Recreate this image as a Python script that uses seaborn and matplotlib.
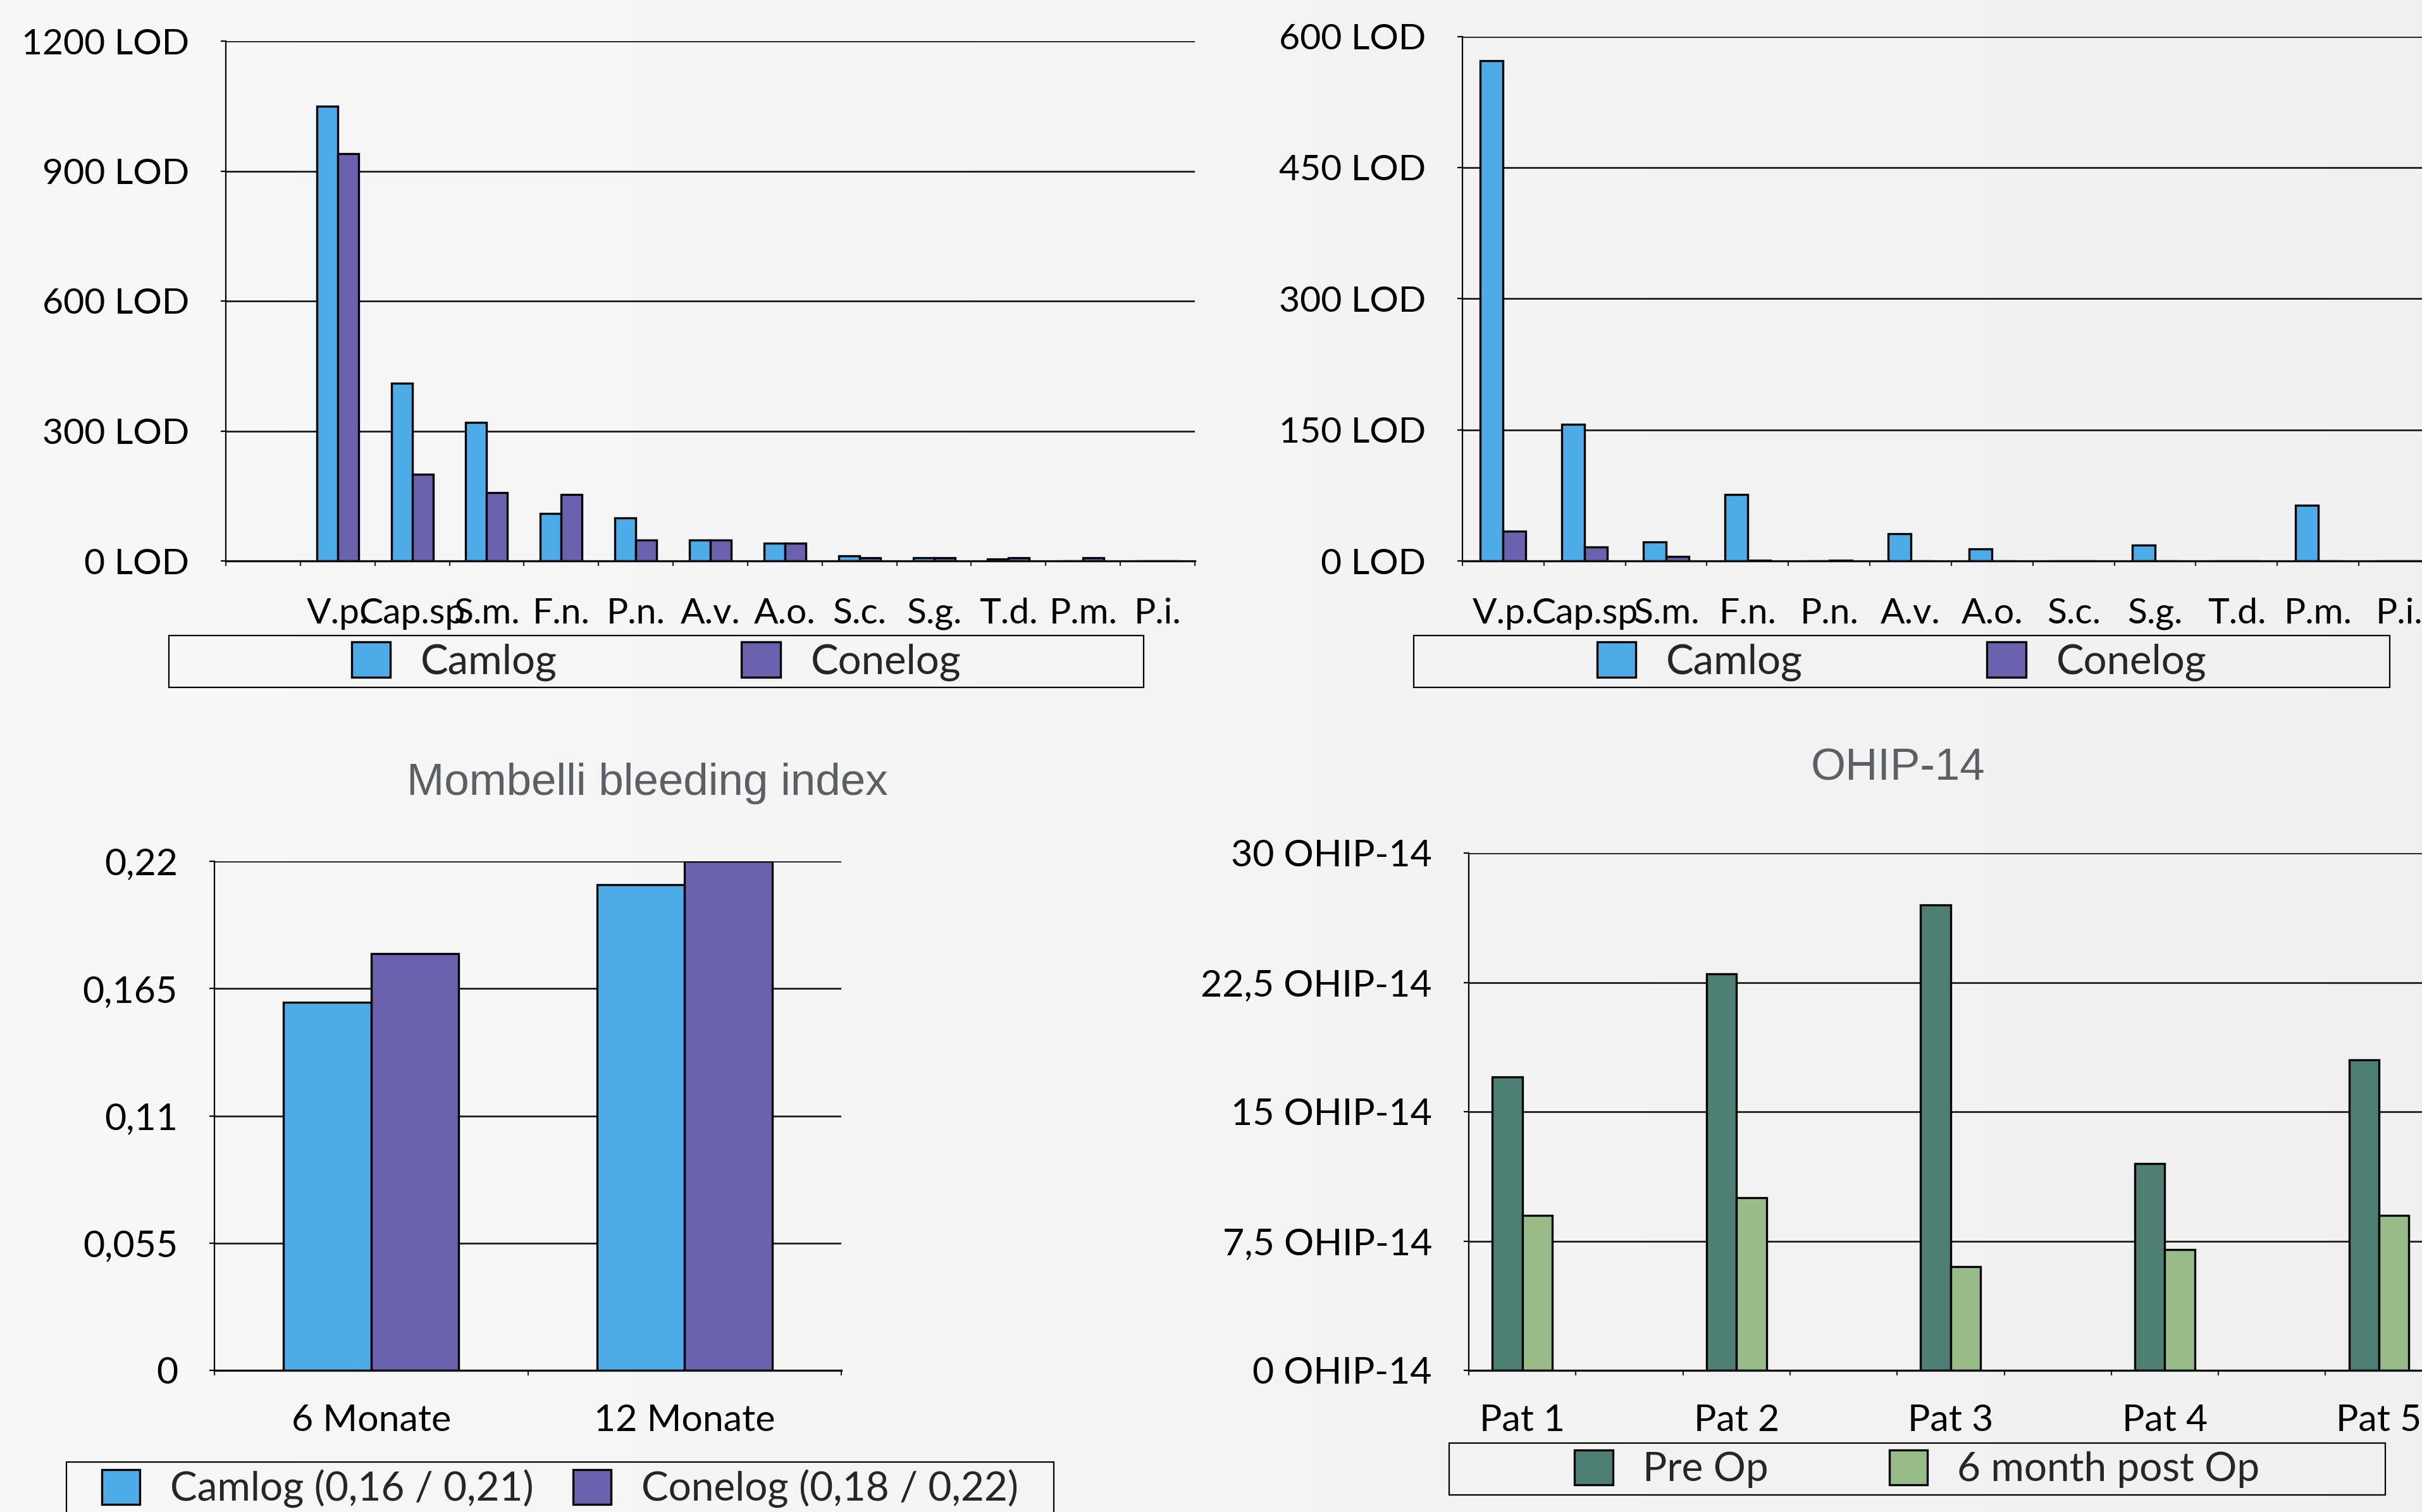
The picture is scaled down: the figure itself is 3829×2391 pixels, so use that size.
import numpy as np
import pandas as pd
import matplotlib
matplotlib.use("Agg")
import matplotlib.pyplot as plt
from matplotlib.patches import Rectangle
import seaborn as sns

# ---------------- data ----------------
species = ["V.p.", "Cap.sp", "S.m.", "F.n.", "P.n.", "A.v.", "A.o.", "S.c.", "S.g.", "T.d.", "P.m.", "P.i."]
lod1_camlog = [1050, 410, 320, 110, 99, 48, 41, 12, 8, 4, 0, 0]
lod1_conelog = [940, 200, 158, 153, 48, 48, 41, 8, 8, 8, 8, 0]
lod1_ticks = [0, 300, 600, 900, 1200]
lod1_ticklabels = ["0 LOD", "300 LOD", "600 LOD", "900 LOD", "1200 LOD"]

lod2_camlog = [572, 156, 22, 76, 0, 31, 14, 0, 18, 0, 64, 0]
lod2_conelog = [34, 16, 5, 1, 1, 0, 0, 0, 0, 0, 0, 0]
lod2_ticks = [0, 150, 300, 450, 600]
lod2_ticklabels = ["0 LOD", "150 LOD", "300 LOD", "450 LOD", "600 LOD"]

months = ["6 Monate", "12 Monate"]
mbi_camlog = [0.159, 0.21]
mbi_conelog = [0.18, 0.22]
mbi_ticks = [0, 0.055, 0.11, 0.165, 0.22]
mbi_ticklabels = ["0", "0,055", "0,11", "0,165", "0,22"]
mbi_series = ["Camlog (0,16 / 0,21)", "Conelog (0,18 / 0,22)"]

patients = ["Pat 1", "Pat 2", "Pat 3", "Pat 4", "Pat 5"]
ohip_pre = [17, 23, 27, 12, 18]
ohip_post = [9, 10, 6, 7, 9]
ohip_ticks = [0, 7.5, 15, 22.5, 30]
ohip_ticklabels = ["0 OHIP-14", "7,5 OHIP-14", "15 OHIP-14", "22,5 OHIP-14", "30 OHIP-14"]
ohip_series = ["Pre Op", "6 month post Op"]

lod_series = ["Camlog", "Conelog"]

# ---------------- style ----------------
C_CAM = "#4DABE8"
C_CONE = "#6B62AF"
C_PRE = "#4E7F74"
C_POST = "#97BC88"
C_TITLE = "#5c6065"

sns.set_style("white")
plt.rcParams["font.family"] = ["Lato", "DejaVu Sans"]

W, H = 3830, 2391
DPI = 100
fig = plt.figure(figsize=(W / DPI, H / DPI), dpi=DPI)

# background gradient
bg = fig.add_axes([0, 0, 1, 1], zorder=-10)
grad = np.linspace(0.972, 0.944, 256)
img = np.stack([grad, grad, grad], axis=-1)[None, :, :]
bg.imshow(np.repeat(img, 2, axis=0), aspect="auto", extent=[0, 1, 0, 1])
bg.axis("off")


def rect(x0, x1, ytop, ybot):
    return [x0 / W, 1 - ybot / H, (x1 - x0) / W, (ybot - ytop) / H]


def long_df(cats, s1, s2, names):
    return pd.DataFrame({
        "cat": list(cats) * 2,
        "series": [names[0]] * len(cats) + [names[1]] * len(cats),
        "value": list(s1) + list(s2),
    })


def style_axis(ax, order, labels, yticks, yticklabels, ymax, tick_fs, xpad):
    n = len(order)
    ax.set_facecolor("none")
    ax.set_xlim(-0.5, n - 0.5)
    ax.set_ylim(0, ymax)
    ax.set_axisbelow(True)
    ax.yaxis.grid(True, color="#1c1c1c", linewidth=2.0)
    ax.xaxis.grid(False)
    for s in ["top", "right"]:
        ax.spines[s].set_visible(False)
    ax.spines["left"].set_color("black")
    ax.spines["left"].set_linewidth(1.6)
    ax.spines["bottom"].set_color("#111111")
    ax.spines["bottom"].set_linewidth(2.4)
    ax.set_yticks(yticks)
    ax.set_yticklabels(yticklabels)
    ax.set_xticks(np.arange(-0.5, n, 1.0))
    ax.set_xticklabels([])
    ax.set_xticks(np.arange(n), minor=True)
    ax.set_xticklabels(labels, minor=True)
    ax.tick_params(axis="y", which="major", length=8 * 0.72, width=1.6, direction="out",
                   left=True, pad=36, labelsize=tick_fs, colors="black")
    ax.tick_params(axis="x", which="major", length=8 * 0.72, width=1.6, direction="out",
                   bottom=True, labelbottom=False)
    ax.tick_params(axis="x", which="minor", length=0, pad=xpad, labelsize=tick_fs,
                   colors="black")
    ax.set_xlabel("")
    ax.set_ylabel("")


def legend_box(ax, x0, x1, ytop, ybot, fs, colspace):
    cx = (x0 + x1) / 2 / W
    cy = 1 - (ytop + ybot) / 2 / H
    sns.move_legend(ax, "center", bbox_to_anchor=(cx, cy), bbox_transform=fig.transFigure,
                    ncol=2, frameon=False, title=None, fontsize=fs,
                    handlelength=0.94, handleheight=0.95, handletextpad=0.74,
                    columnspacing=colspace, borderpad=0, borderaxespad=0)
    leg = ax.get_legend()
    for p in leg.get_patches():
        p.set_edgecolor("black")
        p.set_linewidth(2.4)
    fig.add_artist(Rectangle((x0 / W, 1 - ybot / H), (x1 - x0) / W, (ybot - ytop) / H,
                             transform=fig.transFigure, facecolor="none",
                             edgecolor="black", linewidth=1.6, zorder=5))


bar_kw = dict(width=0.56, gap=0, edgecolor="black", linewidth=2.4, saturation=1)

# ---------------- chart 1: top left ----------------
ax1 = fig.add_axes(rect(357, 1889, 65, 887))
order1 = [" "] + species
df1 = long_df(species, lod1_camlog, lod1_conelog, lod_series)
sns.barplot(data=df1, x="cat", y="value", hue="series", order=order1, hue_order=lod_series,
            palette=[C_CAM, C_CONE], ax=ax1, **bar_kw)
style_axis(ax1, order1, [""] + species, lod1_ticks, lod1_ticklabels, 1200, 41, 42)
legend_box(ax1, 267, 1808, 1005, 1087, 47, 4.46)

# ---------------- chart 2: top right ----------------
ax2 = fig.add_axes(rect(2312, 3858, 57.5, 887))
df2 = long_df(species, lod2_camlog, lod2_conelog, lod_series)
sns.barplot(data=df2, x="cat", y="value", hue="series", order=species, hue_order=lod_series,
            palette=[C_CAM, C_CONE], ax=ax2, **bar_kw)
style_axis(ax2, species, species, lod2_ticks, lod2_ticklabels, 600, 41, 42)
legend_box(ax2, 2235, 3778, 1005, 1087, 47, 4.46)

# ---------------- chart 3: bottom left ----------------
ax3 = fig.add_axes(rect(339, 1330, 1362, 2167))
df3 = long_df(months, mbi_camlog, mbi_conelog, mbi_series)
sns.barplot(data=df3, x="cat", y="value", hue="series", order=months, hue_order=mbi_series,
            palette=[C_CAM, C_CONE], ax=ax3, **bar_kw)
style_axis(ax3, months, months, mbi_ticks, mbi_ticklabels, 0.22, 42.5, 38)
legend_box(ax3, 105, 1666, 2312, 2396, 46, 0.99)
fig.text(1023 / W, 1 - 1257 / H, "Mombelli bleeding index", ha="center", va="baseline",
         fontsize=51, family=["Liberation Sans", "DejaVu Sans"], color=C_TITLE)

# ---------------- chart 4: bottom right ----------------
ax4 = fig.add_axes(rect(2322, 4015, 1349, 2167))
order4 = []
labels4 = []
for i, p in enumerate(patients):
    order4 += [p, " " * (i + 1)]
    labels4 += [p, ""]
df4 = long_df(patients, ohip_pre, ohip_post, ohip_series)
sns.barplot(data=df4, x="cat", y="value", hue="series", order=order4, hue_order=ohip_series,
            palette=[C_PRE, C_POST], ax=ax4, **bar_kw)
style_axis(ax4, order4, labels4, ohip_ticks, ohip_ticklabels, 30, 42.5, 38)
legend_box(ax4, 2291, 3771, 2282, 2364, 46, 3.0)
fig.text(3001 / W, 1 - 1233 / H, "OHIP-14", ha="center", va="baseline",
         fontsize=51, family=["Liberation Sans", "DejaVu Sans"], color=C_TITLE)

fig.savefig("out.png", dpi=DPI)
